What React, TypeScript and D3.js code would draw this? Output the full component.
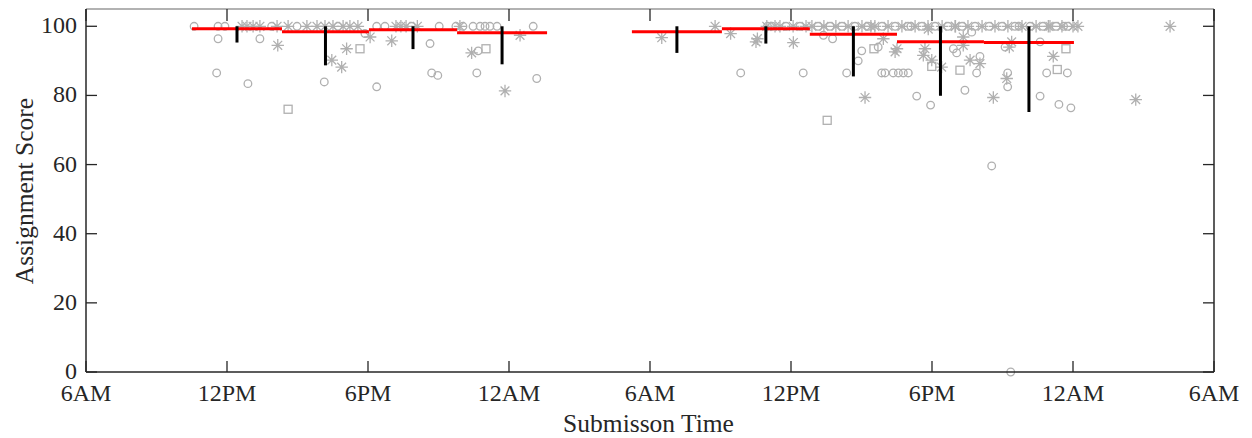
import React from "react";
import * as d3 from "d3";

// ---------- data ----------
// x tick labels (hours since 6AM of day 1, every 6 hours)
const xTickHours = [0, 6, 12, 18, 24, 30, 36, 42, 48];
const xTickLabels = ["6AM", "12PM", "6PM", "12AM", "6AM", "12PM", "6PM", "12AM", "6AM"];
const yTicks = [0, 20, 40, 60, 80, 100];

// individual submissions: hour since 6AM day 1, score, marker type
const pointHours = [
  4.60, 5.62, 5.91, 5.62, 5.56, 6.89, 6.64, 6.85, 7.11, 7.40, 7.40, 8.13, 8.16, 8.60, 8.98, 8.60,
  9.83, 10.17, 10.51, 10.72, 10.94, 11.23, 11.57, 11.09, 11.66, 10.46, 10.88, 10.14, 11.87, 12.09,
  12.37, 12.37, 12.72, 13.19, 13.40, 13.62, 13.01, 14.64, 15.03, 14.71, 14.97, 15.74, 15.91, 16.04,
  16.47, 16.77, 16.98, 17.19, 17.49, 16.41, 16.69, 17.02, 16.63, 17.83, 18.47, 19.03, 19.18,
  24.50, 26.77, 27.43, 27.86, 28.57, 28.51, 28.97, 29.19, 29.32, 29.53, 29.79, 30.09, 30.38, 30.64,
  30.10, 30.52, 30.89, 31.15, 31.40, 31.66, 31.91, 32.17, 32.43, 32.72, 33.02, 33.28, 33.57, 33.87,
  34.13, 34.43, 34.72, 34.98, 35.28, 35.57, 35.83, 36.13, 36.43, 36.68, 36.98, 37.28, 37.53, 37.83,
  38.13, 38.43, 38.68, 38.98, 39.23, 39.53, 39.83, 40.17, 40.43, 40.72, 41.02, 41.28, 41.53, 41.79,
  42.00, 42.21, 46.13,
  31.38, 31.77, 32.37, 33.15, 31.54, 33.93, 33.01, 32.86, 33.53, 33.71, 34.43, 34.51, 33.86, 34.00,
  34.35, 34.57, 34.78, 34.99, 35.70, 35.63, 35.99, 36.41, 35.99, 35.35, 35.94, 35.84, 36.91, 37.05,
  37.33, 37.62, 38.04, 37.19, 37.40, 37.90, 38.04, 37.69, 37.33, 38.61, 39.22, 39.22, 39.18, 39.29,
  39.11, 39.39, 40.60, 40.60, 41.16, 41.70, 41.33, 40.88, 41.76, 41.40, 41.91, 44.67, 38.54, 39.35,
  13.85, 14.10, 7.90, 9.40, 29.00, 33.40, 35.10, 37.00, 39.70, 40.95, 41.60
];
const pointScores = [
  100, 100, 100, 96.4, 86.5, 83.4, 100, 100, 100, 100, 96.4, 100, 94.5, 100, 100, 76,
  100, 100, 100, 100, 100, 100, 100, 93.5, 93.5, 90.2, 88.2, 83.9, 97.9, 96.9,
  82.5, 100, 100, 100, 100, 100, 95.8, 95, 100, 86.5, 85.8, 100, 100, 100,
  100, 100, 100, 100, 100, 92.3, 92.9, 93.5, 86.5, 81.3, 97.4, 100, 84.9,
  96.7, 100, 97.9, 86.5, 96.4, 95.5, 100, 100, 100, 100, 100, 100, 100, 100,
  95.3, 86.5, 100, 100, 100, 100, 100, 100, 100, 100, 100, 100, 100, 100,
  100, 100, 100, 100, 100, 100, 100, 100, 100, 100, 100, 100, 100, 100,
  100, 100, 100, 100, 100, 100, 100, 100, 100, 100, 100, 100, 100, 100,
  100, 100, 100,
  97.4, 96.4, 86.5, 79.4, 72.8, 96.4, 92.9, 90.0, 93.5, 94.0, 92.6, 93.5, 86.5, 86.5,
  86.5, 86.5, 86.5, 86.5, 93.5, 91.6, 90.2, 88.2, 88.4, 79.8, 77.2, 99.2, 93.5, 92.3,
  96.9, 90.2, 89.2, 87.3, 81.5, 86.5, 91.3, 98.3, 94.5, 79.4, 86.5, 82.5, 84.9, 94.0,
  94.0, 95.5, 79.8, 95.5, 91.3, 93.5, 87.5, 86.5, 86.5, 77.4, 76.4, 78.8, 59.6, 0,
  100, 100, 100, 100, 100, 100, 100, 100, 100, 100, 100
];
const pointMarkers = [
  "o", "o", "o", "o", "o", "o", "*", "*", "*", "*", "o", "*", "*", "*", "o", "s",
  "*", "*", "*", "o", "*", "*", "*", "*", "s", "*", "*", "o", "o", "*",
  "o", "o", "o", "*", "*", "*", "*", "o", "o", "o", "o", "o", "*", "o",
  "o", "o", "o", "o", "o", "*", "o", "s", "o", "*", "*", "o", "o",
  "*", "*", "*", "o", "*", "*", "*", "o", "*", "*", "o", "*", "o", "*",
  "*", "o", "*", "o", "*", "o", "*", "o", "*", "o", "*", "o", "*", "o",
  "*", "o", "*", "o", "*", "o", "*", "o", "*", "o", "*", "o", "*", "o",
  "*", "o", "*", "o", "*", "o", "*", "o", "*", "o", "*", "o", "*", "o",
  "*", "*", "*",
  "o", "o", "o", "*", "s", "*", "o", "o", "s", "o", "*", "*", "o", "o",
  "o", "o", "o", "o", "*", "*", "*", "*", "s", "o", "o", "*", "o", "o",
  "*", "*", "*", "s", "o", "o", "o", "o", "*", "*", "o", "o", "*", "*",
  "o", "*", "o", "o", "*", "s", "s", "o", "o", "o", "o", "*", "o", "o",
  "o", "*", "o", "*", "o", "*", "o", "*", "o", "*", "o"
];

// binned summary: bin start / end hour, mean score, error bar low / high
const binStart = [4.51, 8.34, 12.04, 15.79, 23.23, 27.06, 30.80, 34.51, 38.21];
const binEnd = [8.34, 12.04, 15.79, 19.62, 27.06, 30.80, 34.51, 38.21, 42.04];
const binMean = [99.3, 98.4, 99.0, 98.1, 98.4, 99.3, 97.7, 95.5, 95.3];
const binLow = [95.3, 88.7, 93.4, 89.0, 92.3, 95.0, 85.5, 79.9, 75.2];
const binHigh = [100, 100, 100, 100, 100, 100, 100, 100, 100];

// ---------- layout ----------
const W = 1252;
const H = 438;
const left = 86;
const right = 1214;
const top = 9;
const bottom = 372;
const textColor = "#262626";
const gray = "#b0b0b0";
const font = "'Liberation Serif', 'Times New Roman', serif";

function Marker({ x, y, type }: { x: number; y: number; type: string }) {
  if (type === "o") {
    return <circle cx={x} cy={y} r={3.8} fill="none" stroke={gray} strokeWidth={1.3} />;
  }
  if (type === "s") {
    return <rect x={x - 4} y={y - 4} width={8} height={8} fill="none" stroke={gray} strokeWidth={1.3} />;
  }
  const r = 6.2;
  const a = 4.4;
  const d = `M${x - r},${y}L${x + r},${y}M${x},${y - r}L${x},${y + r}M${x - a},${y - a}L${x + a},${y + a}M${x - a},${y + a}L${x + a},${y - a}`;
  return <path d={d} stroke={gray} strokeWidth={1.3} fill="none" />;
}

export default function App() {
  const x = d3.scaleLinear().domain([0, 48]).range([left, right]);
  const y = d3.scaleLinear().domain([0, 105]).range([bottom, top]);
  const tickLen = 11;

  return (
    <svg
      width={W}
      height={H}
      style={{ position: "absolute", left: 0, top: 0, background: "#fff" }}
      fontFamily={font}
    >
      <rect x={0} y={0} width={W} height={H} fill="#fff" />
      {/* scatter */}
      <g>
        {pointHours.map((h, i) => (
          <Marker key={i} x={x(h)} y={y(pointScores[i])} type={pointMarkers[i]} />
        ))}
      </g>
      {/* mean steps */}
      <g>
        {binStart.map((s, i) => (
          <line
            key={i}
            x1={x(s)}
            x2={x(binEnd[i])}
            y1={y(binMean[i])}
            y2={y(binMean[i])}
            stroke="#ff0000"
            strokeWidth={3}
          />
        ))}
      </g>
      {/* error bars */}
      <g>
        {binStart.map((s, i) => {
          const cx = x((s + binEnd[i]) / 2);
          return (
            <line
              key={i}
              x1={cx}
              x2={cx}
              y1={y(binHigh[i])}
              y2={y(binLow[i])}
              stroke="#000"
              strokeWidth={3}
            />
          );
        })}
      </g>
      {/* box */}
      <line x1={left} x2={right} y1={top} y2={top} stroke="#999" strokeWidth={1.3} />
      <line x1={left} x2={right} y1={bottom} y2={bottom} stroke={textColor} strokeWidth={1.5} />
      <line x1={left} x2={left} y1={top} y2={bottom} stroke={textColor} strokeWidth={1.5} />
      <line x1={right} x2={right} y1={top} y2={bottom} stroke={textColor} strokeWidth={1.5} />
      {/* x ticks */}
      {xTickHours.map((h, i) => (
        <g key={"xt" + i}>
          <line x1={x(h)} x2={x(h)} y1={bottom} y2={bottom - tickLen} stroke={textColor} strokeWidth={1.3} />
          <line x1={x(h)} x2={x(h)} y1={top} y2={top + tickLen + 1} stroke={textColor} strokeWidth={1.3} />
          <text x={x(h)} y={401} textAnchor="middle" fontSize={24} fill={textColor}>
            {xTickLabels[i]}
          </text>
        </g>
      ))}
      {/* y ticks */}
      {yTicks.map((v) => (
        <g key={"yt" + v}>
          <line x1={left} x2={left + tickLen} y1={y(v)} y2={y(v)} stroke={textColor} strokeWidth={1.3} />
          <line x1={right} x2={right - tickLen} y1={y(v)} y2={y(v)} stroke={textColor} strokeWidth={1.3} />
          <text x={77} y={y(v) + 7} textAnchor="end" fontSize={24} fill={textColor}>
            {v}
          </text>
        </g>
      ))}
      {/* axis titles */}
      <text x={648.5} y={432} textAnchor="middle" fontSize={25.5} fill={textColor}>
        Submisson Time
      </text>
      <text
        transform={`translate(33,191) rotate(-90)`}
        textAnchor="middle"
        fontSize={25.5}
        fill={textColor}
      >
        Assignment Score
      </text>
    </svg>
  );
}
